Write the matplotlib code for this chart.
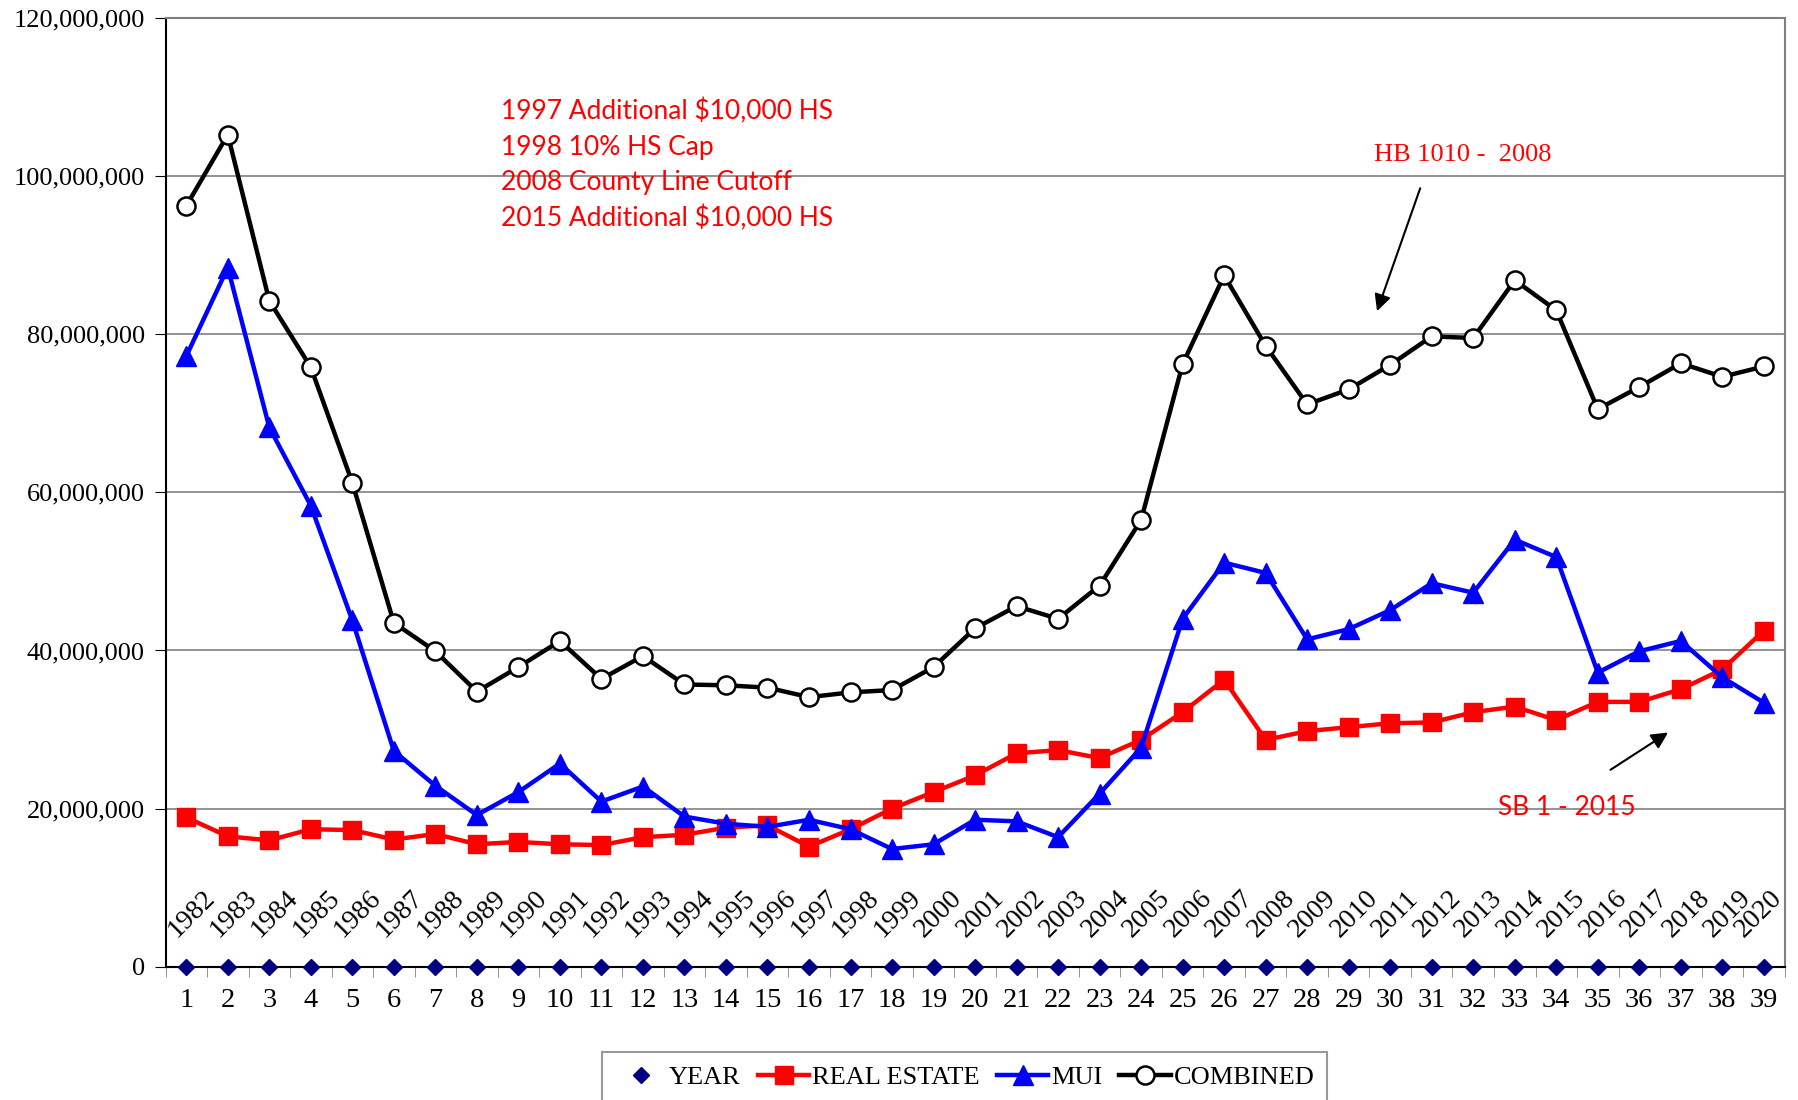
import matplotlib
matplotlib.use('Agg')
import matplotlib.pyplot as plt
from matplotlib.ticker import FuncFormatter, MultipleLocator

# data (values in millions)
years = list(range(1982, 2021))
idx = list(range(1, 40))
year_vals = [0] * 39
real_estate = [18.9, 16.5, 16.0, 17.4, 17.3, 16.1, 16.8, 15.5, 15.8, 15.5,
               15.4, 16.4, 16.7, 17.6, 17.9, 15.2, 17.4, 20.0, 22.1, 24.2,
               27.0, 27.4, 26.4, 28.7, 32.2, 36.3, 28.7, 29.8, 30.3, 30.8,
               30.9, 32.2, 32.9, 31.2, 33.5, 33.5, 35.1, 37.6, 42.5]
mui = [77.2, 88.4, 68.2, 58.3, 43.8, 27.3, 22.9, 19.2, 22.1, 25.7,
       20.9, 22.8, 19.0, 18.1, 17.7, 18.6, 17.4, 14.9, 15.5, 18.6,
       18.4, 16.4, 21.9, 27.7, 44.0, 51.1, 49.8, 41.4, 42.7, 45.1,
       48.5, 47.3, 54.0, 51.8, 37.2, 39.9, 41.2, 36.6, 33.4]
combined = [96.2, 105.2, 84.2, 75.8, 61.2, 43.5, 39.9, 34.8, 37.9, 41.2,
            36.4, 39.3, 35.7, 35.6, 35.3, 34.1, 34.7, 35.0, 37.9, 42.8,
            45.6, 44.0, 48.2, 56.5, 76.2, 87.4, 78.5, 71.1, 73.0, 76.1,
            79.7, 79.5, 86.8, 83.0, 70.5, 73.3, 76.3, 74.6, 75.9]
notes = ["1997 Additional $10,000 HS", "1998 10% HS Cap",
         "2008 County Line Cutoff", "2015 Additional $10,000 HS"]

M = 1e6
serif = ['Liberation Serif', 'DejaVu Serif']
plt.rcParams['font.family'] = serif

fig = plt.figure(figsize=(17.99, 11), dpi=100)
ax = fig.add_axes([0.092, 0.121, 0.9, 0.863])

ax.plot(idx, [v * M for v in year_vals], linestyle='none', marker='D',
        color='#000080', markersize=8, label='YEAR', zorder=5, clip_on=False)
ax.plot(idx, [v * M for v in real_estate], color='#ff0000', lw=3.2, marker='s',
        markersize=13, label='REAL ESTATE', zorder=3)
ax.plot(idx, [v * M for v in mui], color='#0000ff', lw=3.2, marker='^',
        markersize=14, label='MUI', zorder=3)
ax.plot(idx, [v * M for v in combined], color='black', lw=3.2, marker='o',
        markersize=13, markerfacecolor='white', markeredgecolor='black',
        markeredgewidth=1.8, label='COMBINED', zorder=4)

# year data labels (the last one is nudged left like in the original)
for i, y in zip(idx, years):
    dx = -4 if i == idx[-1] else 4
    ax.annotate(str(y), (i, 0), xytext=(dx, 38), textcoords='offset points',
                rotation=45, ha='center', va='center', fontsize=20)

ax.set_xlim(0.5, 39.5)
ax.set_ylim(0, 120 * M)
ax.yaxis.set_major_locator(MultipleLocator(20 * M))
ax.yaxis.set_major_formatter(FuncFormatter(lambda v, p: f"{int(v):,}"))
ax.set_xticks(idx)
ax.set_xticklabels([str(i) for i in idx])
ax.set_xticks([i + 0.5 for i in range(0, 40)], minor=True)
ax.tick_params(axis='x', which='major', length=0, pad=15, labelsize=20.5)
ax.tick_params(axis='x', which='minor', length=7, direction='out', color='#808080')
ax.tick_params(axis='y', length=8, direction='out', labelsize=19, pad=7)
ax.grid(axis='y', color='#808080', lw=1.2)
ax.set_axisbelow(True)
for s in ['top', 'right']:
    ax.spines[s].set_color('#808080')
    ax.spines[s].set_linewidth(1.5)
for s in ['left', 'bottom']:
    ax.spines[s].set_color('black')
    ax.spines[s].set_linewidth(1.5)

# annotations
for k, t in enumerate(notes):
    ax.text(0.207, 0.901 - k * 0.0375, t, transform=ax.transAxes, color='#ff0000',
            fontsize=19, family=['Lato', 'DejaVu Sans'], va='center', ha='left')
ax.text(0.801, 0.855, 'HB 1010 -  2008', transform=ax.transAxes,
        color='#ff0000', fontsize=19, ha='center', va='center')
ax.annotate('', xy=(0.7477, 0.688), xytext=(0.7755, 0.823), xycoords='axes fraction',
            arrowprops=dict(arrowstyle='-|>', color='black', lw=1.5, mutation_scale=25))
ax.text(0.8655, 0.168, 'SB 1 - 2015', transform=ax.transAxes, color='#ff0000',
        fontsize=19, family=['Lato', 'DejaVu Sans'], ha='center', va='center')
ax.annotate('', xy=(0.9295, 0.2485), xytext=(0.891, 0.206), xycoords='axes fraction',
            arrowprops=dict(arrowstyle='-|>', color='black', lw=1.5, mutation_scale=25))

leg = ax.legend(loc='upper center', bbox_to_anchor=(0.4935, -0.076), ncol=4,
                fontsize=19, frameon=True, fancybox=False, edgecolor='#808080',
                handlelength=1.95, handletextpad=0.1, columnspacing=0.65,
                borderpad=0.5)
leg.get_frame().set_linewidth(1.5)

fig.savefig('out.png', dpi=100)
